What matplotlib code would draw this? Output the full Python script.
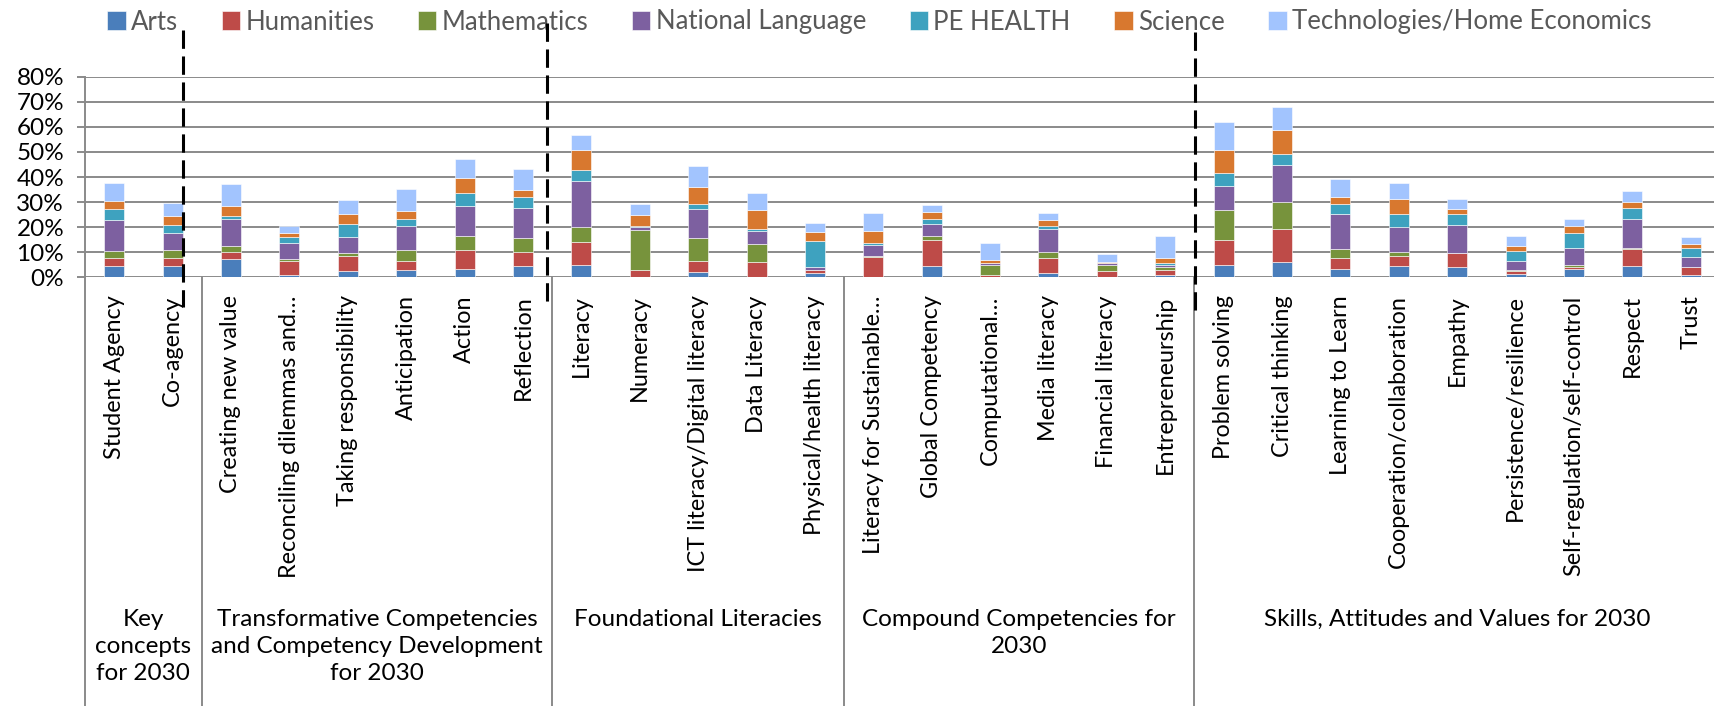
import matplotlib
matplotlib.use("Agg")
import matplotlib.pyplot as plt
from matplotlib.lines import Line2D
from matplotlib.transforms import blended_transform_factory
import numpy as np

plt.rcParams['font.family'] = ['Lato', 'DejaVu Sans']

categories = [
    "Student Agency", "Co-agency",
    "Creating new value", "Reconciling dilemmas and…", "Taking responsibility",
    "Anticipation", "Action", "Reflection",
    "Literacy", "Numeracy", "ICT literacy/Digital literacy", "Data Literacy",
    "Physical/health literacy",
    "Literacy for Sustainable…", "Global Competency", "Computational…",
    "Media literacy", "Financial literacy", "Entrepreneurship",
    "Problem solving", "Critical thinking", "Learning to Learn",
    "Cooperation/collaboration", "Empathy", "Persistence/resilience",
    "Self-regulation/self-control", "Respect", "Trust",
]

groups = [
    "Key\nconcepts\nfor 2030",
    "Transformative Competencies\nand Competency Development\nfor 2030",
    "Foundational Literacies",
    "Compound Competencies for\n2030",
    "Skills, Attitudes and Values for 2030",
]
group_sizes = [2, 6, 5, 6, 9]

subjects = ["Arts", "Humanities", "Mathematics", "National Language",
            "PE HEALTH", "Science", "Technologies/Home Economics"]

# percent share per subject, one value per category
arts = [4.5, 4.7, 7.4, 0.8, 2.4, 2.9, 3.5, 4.7, 4.9, 0.3, 2.3, 0.3, 1.6, 0.3,
        4.5, 0.2, 1.6, 0.2, 0.8, 4.9, 6.1, 3.2, 4.7, 4.1, 1.5, 3.2, 4.4, 0.8]
humanities = [3.3, 3.1, 2.8, 5.8, 6.0, 3.7, 7.4, 5.5, 9.2, 2.6, 4.2, 6.0, 1.3, 7.8,
              10.4, 0.6, 6.2, 2.3, 2.3, 9.9, 13.2, 4.6, 3.9, 5.5, 1.2, 1.1, 7.0, 3.2]
mathematics = [2.6, 3.2, 2.4, 0.8, 1.2, 4.3, 5.6, 5.6, 6.0, 16.1, 9.3, 7.1, 0.1, 0.5,
               1.6, 4.0, 2.2, 2.6, 0.9, 12.2, 10.9, 3.6, 1.6, 0.2, 0.4, 0.5, 0.4, 0.1]
national_language = [12.5, 6.8, 10.7, 6.4, 6.4, 9.7, 12.1, 12.0, 18.5, 1.1, 11.6, 5.2, 1.3, 4.2,
                     4.9, 0.8, 9.4, 0.5, 1.1, 9.3, 14.7, 13.9, 10.0, 11.2, 3.5, 7.0, 11.5, 4.0]
pe_health = [4.2, 3.2, 1.3, 2.3, 5.4, 2.7, 4.9, 4.1, 4.2, 0.2, 1.9, 0.7, 10.2, 0.9,
             1.7, 0.3, 0.9, 0.1, 0.5, 5.1, 4.4, 4.0, 5.2, 4.1, 3.9, 6.0, 4.5, 3.7]
science = [3.2, 3.5, 3.9, 1.5, 3.9, 3.0, 6.3, 3.1, 8.0, 4.4, 6.7, 7.4, 3.7, 4.8,
           3.0, 1.0, 2.7, 0.3, 2.0, 9.4, 9.5, 2.7, 5.8, 2.3, 1.9, 2.7, 2.3, 1.4]
technologies = [7.2, 5.0, 8.6, 2.9, 5.7, 8.9, 7.3, 8.2, 6.1, 4.6, 8.4, 7.1, 3.3, 7.0,
                2.9, 6.8, 2.8, 3.4, 8.9, 11.0, 9.0, 7.4, 6.3, 3.7, 4.0, 2.9, 4.5, 3.0]

series = [arts, humanities, mathematics, national_language, pe_health, science, technologies]
colors = ["#4a7ebb", "#be4b48", "#77933c", "#7d60a0", "#3ea2bf", "#d8782f", "#a2c4fe"]

# hand-drawn dashed markers (x in category units)
dashed_x = [1.18, 7.41, 18.51]
dashed_top = [30, 23, 32]      # pixels from top
dashed_bottom = [307, 305, 315]

W, H = 1714, 706
fig = plt.figure(figsize=(W / 100, H / 100), dpi=100)
ax = fig.add_axes([85 / W, (H - 277.3) / H, (W - 85) / W, 200.6 / H])

x = np.arange(len(categories))
bottom = np.zeros(len(categories))
for name, vals, col in zip(subjects, series, colors):
    ax.bar(x, vals, 0.343, bottom=bottom, color=col, label=name,
           edgecolor="white", linewidth=0.4, zorder=3)
    bottom += np.array(vals)

grid_col = "#8a8a8a"
ax.set_xlim(-0.5, 27.5 - 6 / 58.39)
ax.set_ylim(0, 80)
ax.set_yticks(range(0, 81, 10))
ax.set_yticklabels([f"{v}%" for v in range(0, 81, 10)], fontsize=17.5)
ax.yaxis.grid(True, color=grid_col, linewidth=1.4, zorder=0)
ax.tick_params(axis="y", length=6, width=1.4, color=grid_col, pad=9)
ax.set_axisbelow(True)
for s in ["top", "right", "bottom"]:
    ax.spines[s].set_visible(False)
ax.spines["left"].set_color(grid_col)
ax.spines["left"].set_linewidth(1.4)

ax.set_xticks(x)
ax.set_xticklabels(categories, rotation=90, va="top", ha="center", fontsize=16.8)
ax.tick_params(axis="x", length=0, pad=13)

# group separators and labels below the axis
trans = blended_transform_factory(ax.transData, fig.transFigure)
y_axis_bottom = (H - 277.3) / H
edges = np.concatenate([[0], np.cumsum(group_sizes)]) - 0.5
for e in edges:
    fig.add_artist(Line2D([e, e], [0, y_axis_bottom], transform=trans,
                          color=grid_col, linewidth=1.4))
for i, g in enumerate(groups):
    cx = (edges[i] + edges[i + 1]) / 2
    fig.text(cx, (H - 609) / H, g, transform=trans, ha="center", va="top",
             fontsize=17.5, linespacing=1.34, multialignment="center")

for dx, t, b in zip(dashed_x, dashed_top, dashed_bottom):
    fig.add_artist(Line2D([dx, dx], [(H - t) / H, (H - b) / H], transform=trans,
                          color="black", linewidth=2.2, linestyle=(0, (6, 2.5)),
                          zorder=10))

fig.legend(loc="center", bbox_to_anchor=(0.513, 1 - 22 / H), ncol=7, frameon=False,
           fontsize=18.5, handlelength=0.72, handleheight=0.72, handletextpad=0.2,
           columnspacing=1.7, labelcolor="#595959")

fig.savefig("out.png", dpi=100)
